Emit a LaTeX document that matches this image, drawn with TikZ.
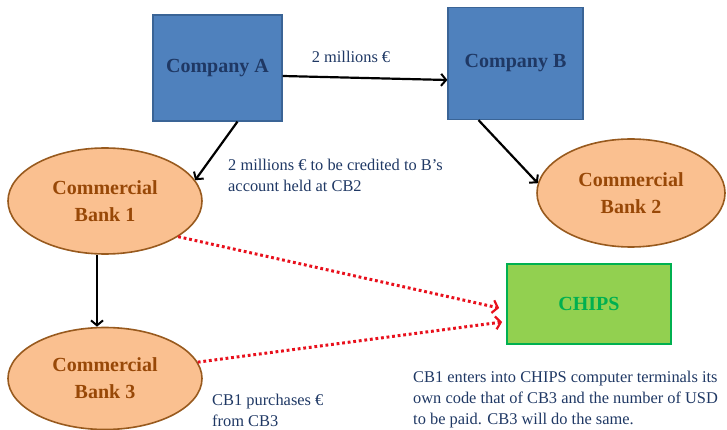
\documentclass[tikz,border=0pt]{standalone}
\usepackage{fontspec}
\setmainfont{Liberation Serif}
\usetikzlibrary{arrows.meta,shapes.geometric}
\definecolor{compfill}{HTML}{4F81BD}
\definecolor{compedge}{HTML}{3A6496}
\definecolor{navy}{HTML}{1F3864}
\definecolor{bankfill}{HTML}{FAC090}
\definecolor{bankedge}{HTML}{985A1E}
\definecolor{banktext}{HTML}{984807}
\definecolor{chipsfill}{HTML}{92D050}
\definecolor{chipsedge}{HTML}{00B050}
\definecolor{dotred}{HTML}{E8101C}

\begin{document}
\begin{tikzpicture}[x=1pt,y=-1pt,
  company/.style={draw=compedge,fill=compfill,line width=1.2pt,text=navy,
    font=\fontsize{20}{24}\selectfont\bfseries,inner sep=0pt},
  bank/.style={ellipse,draw=bankedge,fill=bankfill,line width=1.6pt,text=banktext,
    align=center,font=\fontsize{20}{27}\selectfont\bfseries,inner sep=0pt},
  note/.style={text=navy,align=left,anchor=west,inner sep=0pt,
    font=\fontsize{16.4}{21}\selectfont},
  flow/.style={line width=2.2pt,-{Straight Barb[length=5pt,width=12pt,line width=2pt]}},
  order/.style={dotred,line width=3pt,dash pattern=on 2.8pt off 2.8pt,
    -{Straight Barb[length=5pt,width=13pt,line width=2.2pt]}}]
  \useasboundingbox (0,0) rectangle (727,430);

  % companies
  \node[company,minimum width=129pt,minimum height=106pt] (compA) at (217.5,68) {Company A};
  \node[company,minimum width=135pt,minimum height=112pt] (compB) at (515.5,63.5) {Company B};

  % banks
  \node[bank,minimum width=194pt,minimum height=106pt] (cb1) at (105,201) {Commercial\\Bank 1};
  \node[bank,minimum width=188pt,minimum height=108pt] (cb2) at (631,193) {Commercial\\Bank 2};
  \node[bank,minimum width=194pt,minimum height=102pt] (cb3) at (105,378.5) {Commercial\\Bank 3};

  % clearing system
  \node[draw=chipsedge,fill=chipsfill,line width=1.8pt,text=chipsedge,
    font=\fontsize{20}{24}\selectfont\bfseries,minimum width=164pt,minimum height=80pt]
    (chips) at (589,304) {CHIPS};

  % payment flows
  \draw[flow] ([yshift=-8pt]compA.east) -- ([yshift=-16.5pt]compB.west);
  \draw[flow] ([xshift=20pt]compA.south) -- (cb1.13);
  \draw[flow] ([xshift=-37pt]compB.south) -- (cb2.174);
  \draw[flow] ([xshift=-8pt]cb1.south) -- ([xshift=-8pt]cb3.north);

  % messages to CHIPS
  \draw[order] (cb1.-26) -- ([xshift=-7pt,yshift=-4pt]chips.west);
  \draw[order] (cb3.10) -- ([xshift=-4pt,yshift=-18pt]chips.west);

  % labels
  \node[note,anchor=center] (lblAB) at (351,57) {2 millions €};
  \node[note] (lblA1) at (228,175) {2 millions € to be credited to B’s\\account held at CB2};
  \node[note] (lblbuy) at (212,410) {CB1 purchases €\\from CB3};
  \node[note] (lblchips) at (413,400) {CB1 enters into CHIPS computer terminals its\\own code that of CB3 and the number of USD\\to be paid. CB3 will do the same.};
\end{tikzpicture}
\end{document}
